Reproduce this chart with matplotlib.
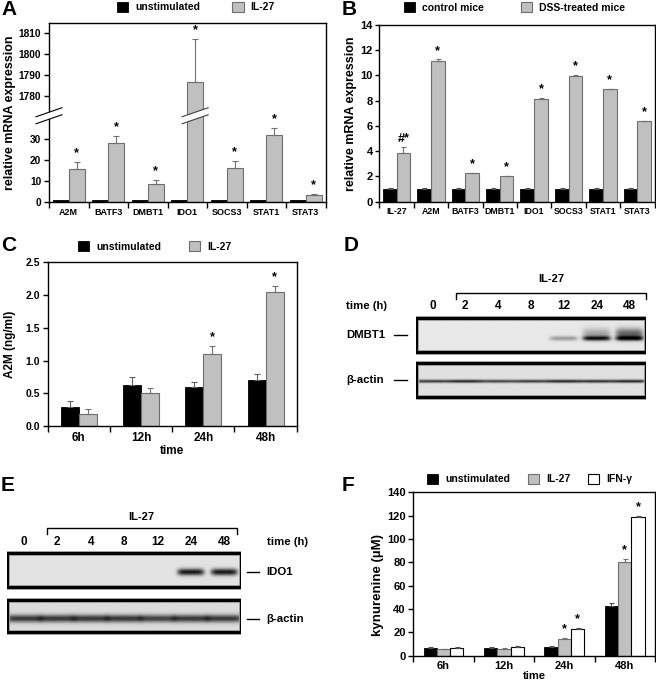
import numpy as np
import matplotlib
matplotlib.use('Agg')
import matplotlib.pyplot as plt
from matplotlib.patches import Rectangle, Polygon
from matplotlib.lines import Line2D

plt.rcParams['font.family'] = ['Liberation Sans', 'DejaVu Sans']
plt.rcParams['font.weight'] = 'bold'
plt.rcParams['axes.labelweight'] = 'bold'
plt.rcParams['axes.linewidth'] = 1.0

# ---------------- data ----------------
# A: relative mRNA expression, cell line
genes_a = ['A2M', 'BATF3', 'DMBT1', 'IDO1', 'SOCS3', 'STAT1', 'STAT3']
unstim_a = [1, 1, 1, 1, 1, 1, 1]
il27_a = [15.5, 27.7, 8.6, 1787, 16.0, 31.9, 3.3]
il27_a_err = [3.4, 3.7, 2.0, 20, 3.2, 3.3, 0.3]
stars_a = ['*', '*', '*', '*', '*', '*', '*']

# B: relative mRNA expression, mice
genes_b = ['IL-27', 'A2M', 'BATF3', 'DMBT1', 'IDO1', 'SOCS3', 'STAT1', 'STAT3']
control_b = [1, 1, 1, 1, 1, 1, 1, 1]
control_b_err = [0.08, 0.05, 0.05, 0.05, 0.05, 0.08, 0.05, 0.08]
dss_b = [3.88, 11.12, 2.25, 2.03, 8.11, 9.93, 8.9, 6.37]
dss_b_err = [0.43, 0.15, 0.0, 0.0, 0.08, 0.08, 0.0, 0.0]
stars_b = ['#*', '*', '*', '*', '*', '*', '*', '*']

# C: A2M protein (ng/ml)
times = ['6h', '12h', '24h', '48h']
unstim_c = [0.30, 0.625, 0.60, 0.70]
unstim_c_err = [0.09, 0.12, 0.07, 0.10]
il27_c = [0.19, 0.51, 1.10, 2.05]
il27_c_err = [0.08, 0.08, 0.13, 0.09]
stars_c = ['', '', '*', '*']

# F: kynurenine (uM)
unstim_f = [6.9, 6.9, 7.6, 43.0]
unstim_f_err = [0.8, 0.9, 0.8, 2.0]
il27_f = [5.7, 6.0, 14.3, 80.7]
il27_f_err = [0.4, 0.5, 1.2, 2.0]
ifng_f = [6.6, 7.5, 22.9, 118.8]
ifng_f_err = [0.6, 0.9, 0.5, 0.7]
stars_f_il27 = ['', '', '*', '*']
stars_f_ifng = ['', '', '*', '*']

# D / E: western blots, relative band darkness per lane
lanes = ['0', '2', '4', '8', '12', '24', '48']
dmbt1_level = [0, 0, 0, 0, 0.35, 0.9, 0.9]
dmbt1_smear = [0, 0, 0, 0, 0, 0.3, 0.6]
actin_d_level = [0.8, 0.9, 0.75, 0.8, 0.9, 0.85, 0.9]
ido1_level = [0, 0, 0, 0, 0, 0.95, 0.95]
actin_e_level = [0.8, 0.8, 0.8, 0.8, 0.75, 0.8, 0.8]

# ---------------- figure ----------------
W, H = 656, 685
fig = plt.figure(figsize=(W / 100, H / 100), dpi=100)

GREY = '#c0c0c0'
GREY_EDGE = '#6e6e6e'


def add_axes_px(x0, y0, x1, y1):
    return fig.add_axes([x0 / W, 1 - y1 / H, (x1 - x0) / W, (y1 - y0) / H])


def group_axis(ax, labels, size):
    n = len(labels)
    ax.set_xlim(-0.5, n - 0.5)
    ax.set_xticks(np.arange(n))
    ax.set_xticklabels(labels, fontsize=size, fontweight='bold')
    ax.set_xticks(np.arange(n + 1) - 0.5, minor=True)
    ax.tick_params(axis='x', which='major', length=0, pad=4)
    ax.tick_params(axis='x', which='minor', length=4, width=1, direction='out')
    ax.tick_params(axis='y', which='major', length=3.5, width=1, direction='out', pad=2)
    ax.tick_params(axis='y', which='minor', length=0)


def add_legend(ax, handles, labels, x, y, spacing):
    ax.legend(handles, labels, loc='center left', bbox_to_anchor=(x / W, 1 - y / H),
              bbox_transform=fig.transFigure, ncol=len(labels), frameon=False,
              prop={'size': 7.5, 'weight': 'bold'}, handlelength=1.1, handleheight=1.1,
              handletextpad=0.65, columnspacing=spacing, borderpad=0, borderaxespad=0)


def add_stars(ax, xs, tops, marks, size=9, dy=2):
    for x, t, m in zip(xs, tops, marks):
        if m:
            ax.annotate(m, (x, t), xytext=(0, dy), textcoords='offset points',
                        ha='center', va='bottom', fontsize=size, fontweight='bold')


def up_err(ax, x, y, err, color, cap=2.0):
    ax.errorbar(x, y, yerr=[np.zeros(len(err)), err], fmt='none', ecolor=color,
                elinewidth=0.8, capsize=cap, capthick=0.8, zorder=1)


def panel_letter(x, y, s):
    fig.text(x / W, 1 - y / H, s, fontsize=15, fontweight='bold', va='top', ha='left')


# ---------------- A (broken axis) ----------------
LOW_TOP = 40.8
HIGH_BOTTOM = 1771.0
SQ = 1e-4
MID_TOP = LOW_TOP + (HIGH_BOTTOM - LOW_TOP) * SQ


def fwd(v):
    v = np.asarray(v, float)
    return np.where(v <= LOW_TOP, v,
                    np.where(v < HIGH_BOTTOM, LOW_TOP + (v - LOW_TOP) * SQ,
                             MID_TOP + (v - HIGH_BOTTOM)))


def inv(u):
    u = np.asarray(u, float)
    return np.where(u <= LOW_TOP, u,
                    np.where(u < MID_TOP, LOW_TOP + (u - LOW_TOP) / SQ,
                             u - MID_TOP + HIGH_BOTTOM))


axA = add_axes_px(49, 23, 325.5, 202)
xa = np.arange(len(genes_a))
bA1 = axA.bar(xa - 0.2, unstim_a, 0.4, color='black', edgecolor='black', lw=0.6)
bA2 = axA.bar(xa + 0.2, il27_a, 0.4, color=GREY, edgecolor=GREY_EDGE, lw=0.8)
up_err(axA, xa + 0.2, il27_a, il27_a_err, '#707070')
axA.set_yscale('function', functions=(fwd, inv))
axA.set_ylim(0, 1814.7)
axA.set_yticks([0, 10, 20, 30, 1780, 1790, 1800, 1810])
axA.set_yticklabels(['0', '10', '20', '30', '1780', '1790', '1800', '1810'], fontsize=7.3)
axA.yaxis.set_minor_locator(matplotlib.ticker.NullLocator())
group_axis(axA, genes_a, 6.5)
axA.set_ylabel('relative mRNA expression', fontsize=9)
axA.yaxis.set_label_coords(-0.12, 0.5)
add_stars(axA, xa + 0.2, np.array(il27_a) + np.array(il27_a_err), stars_a)
add_legend(axA, [bA1, bA2], ['unstimulated', 'IL-27'], 116.7, 7.2, 3.1)


def draw_break(ax, cx, cy, color):
    half, rise, gap = 13, 4.5, 3.5
    up = [(cx - half, cy + gap - rise), (cx + half, cy + gap + rise)]
    lo = [(cx - half, cy - gap - rise), (cx + half, cy - gap + rise)]
    to_ax = ax.transAxes.inverted()
    up_a = to_ax.transform(up)
    lo_a = to_ax.transform(lo)
    poly = Polygon([lo_a[0], lo_a[1], up_a[1], up_a[0]], closed=True, fc='white', ec='none',
                   transform=ax.transAxes, clip_on=False, zorder=5)
    ax.add_patch(poly)
    for seg in (up_a, lo_a):
        ax.add_line(Line2D(seg[:, 0], seg[:, 1], color=color, lw=0.8,
                           transform=ax.transAxes, clip_on=False, zorder=6))


brk_y = axA.transData.transform((0, LOW_TOP + 0.1))[1]
draw_break(axA, axA.transAxes.transform((0, 0))[0], brk_y, 'black')
draw_break(axA, axA.transData.transform((xa[3] + 0.2, 0))[0], brk_y, '#404040')

# ---------------- B ----------------
axB = add_axes_px(379.3, 25, 654.5, 201.7)
xb = np.arange(len(genes_b))
bB1 = axB.bar(xb - 0.2, control_b, 0.4, color='black', edgecolor='black', lw=0.6)
bB2 = axB.bar(xb + 0.2, dss_b, 0.4, color=GREY, edgecolor=GREY_EDGE, lw=0.8)
up_err(axB, xb - 0.2, control_b, control_b_err, '#505050', cap=1.8)
up_err(axB, xb + 0.2, dss_b, dss_b_err, '#707070', cap=1.8)
axB.set_ylim(0, 14)
axB.set_yticks(np.arange(0, 15, 2))
axB.tick_params(axis='y', labelsize=8, pad=1.5)
group_axis(axB, genes_b, 6.3)
axB.tick_params(axis='y', pad=1.5, length=3)
axB.set_ylabel('relative mRNA expression', fontsize=9)
axB.yaxis.set_label_coords(-0.08, 0.5)
add_stars(axB, xb + 0.2, np.array(dss_b) + np.array(dss_b_err), stars_b)
add_legend(axB, [bB1, bB2], ['control mice', 'DSS-treated mice'], 404, 7.5, 3.5)

# ---------------- C ----------------
axC = add_axes_px(47.7, 262.3, 296.7, 426.3)
xc = np.arange(len(times))
bC1 = axC.bar(xc - 0.145, unstim_c, 0.29, color='black', edgecolor='black', lw=0.6)
bC2 = axC.bar(xc + 0.145, il27_c, 0.29, color=GREY, edgecolor=GREY_EDGE, lw=0.8)
up_err(axC, xc - 0.145, unstim_c, unstim_c_err, '#606060', cap=2.5)
up_err(axC, xc + 0.145, il27_c, il27_c_err, '#707070', cap=2.5)
axC.set_ylim(0, 2.5)
axC.set_yticks(np.arange(0, 2.51, 0.5))
axC.set_yticklabels(['%.1f' % v for v in np.arange(0, 2.51, 0.5)], fontsize=7.5)
group_axis(axC, times, 8.5)
axC.set_ylabel('A2M (ng/ml)', fontsize=8.5)
axC.yaxis.set_label_coords(-0.127, 0.5)
axC.set_xlabel('time', fontsize=8.5, labelpad=1)
add_stars(axC, xc + 0.145, np.array(il27_c) + np.array(il27_c_err), stars_c)
add_legend(axC, [bC1, bC2], ['unstimulated', 'IL-27'], 77.7, 246.3, 2.65)

# ---------------- F ----------------
axF = add_axes_px(413.3, 492.3, 655, 655.7)
xf = np.arange(len(times))
bF1 = axF.bar(xf - 0.22, unstim_f, 0.22, color='black', edgecolor='black', lw=0.6)
bF2 = axF.bar(xf, il27_f, 0.22, color=GREY, edgecolor=GREY_EDGE, lw=0.8)
bF3 = axF.bar(xf + 0.22, ifng_f, 0.22, color='white', edgecolor='black', lw=0.8)
up_err(axF, xf - 0.22, unstim_f, unstim_f_err, '#505050', cap=1.8)
up_err(axF, xf, il27_f, il27_f_err, '#707070', cap=1.8)
up_err(axF, xf + 0.22, ifng_f, ifng_f_err, '#505050', cap=1.8)
axF.set_ylim(0, 140)
axF.set_yticks(np.arange(0, 141, 20))
axF.tick_params(axis='y', labelsize=8)
group_axis(axF, times, 8)
axF.set_ylabel('kynurenine (\u00b5M)', fontsize=9.5)
axF.yaxis.set_label_coords(-0.121, 0.43)
axF.set_xlabel('time', fontsize=8, labelpad=0)
add_stars(axF, xf, np.array(il27_f) + np.array(il27_f_err), stars_f_il27)
add_stars(axF, xf + 0.22, np.array(ifng_f) + np.array(ifng_f_err), stars_f_ifng)
add_legend(axF, [bF1, bF2, bF3], ['unstimulated', 'IL-27', 'IFN-\u03b3'], 426.7, 479.2, 1.7)


# ---------------- blots ----------------
def blot_image(levels, center, thick, lane_w, smear=None, bg=0.9, rows=90, cpl=40):
    n = len(levels)
    xs = (np.arange(n * cpl) + 0.5) / cpl - 0.5
    ys = np.linspace(0, 1, rows)
    img = np.full((rows, xs.size), bg)
    for i, lv in enumerate(levels):
        px = np.exp(-np.abs((xs - i) / (lane_w / 2)) ** 6)
        py = np.exp(-((ys - center) / thick) ** 2)
        img -= lv * np.outer(py, px) * (bg - 0.05)
        if smear is not None and smear[i] > 0:
            ps = np.exp(-((ys - (center - 0.14)) / 0.16) ** 2)
            img -= smear[i] * np.outer(ps, px) * (bg - 0.05)
    return np.clip(img, 0, 1)


def draw_blot(ax, img, y_top, y_bot, n):
    ax.imshow(img, cmap='gray', vmin=0, vmax=1, aspect='auto', interpolation='bilinear',
              extent=(-0.5, n - 0.5, y_bot, y_top))
    ax.add_patch(Rectangle((-0.5, y_top), n, y_bot - y_top, fill=False, ec='#999999', lw=3.4))
    ax.add_patch(Rectangle((-0.5, y_top), n, y_bot - y_top, fill=False, ec='black', lw=2.2))


def bracket(ax, x0, x1, y, ytick, label, ylab):
    ax.plot([x0, x0, x1, x1], [ytick, y, y, ytick], color='black', lw=1.0, clip_on=False)
    ax.text((x0 + x1) / 2, ylab, label, ha='center', va='center', fontsize=8)


n = len(lanes)
# D
axD = add_axes_px(416, 270, 646, 400)
axD.set_xlim(-0.5, n - 0.5)
axD.set_ylim(400, 270)
axD.axis('off')
draw_blot(axD, blot_image(dmbt1_level, 0.6, 0.07, 0.85, smear=dmbt1_smear, bg=0.91), 317.7, 351.7, n)
draw_blot(axD, blot_image(actin_d_level, 0.55, 0.045, 1.05, bg=0.88), 362.7, 397.3, n)
for i, lab in enumerate(lanes):
    axD.text(i, 305.7, lab, ha='center', va='center', fontsize=8.5)
axD.text(-2.63, 305.7, 'time (h)', ha='left', va='center', fontsize=8.2, clip_on=False)
bracket(axD, 0.72, 6.5, 293.3, 299, 'IL-27', 279.3)
axD.text(-2.63, 335, 'DMBT1', ha='left', va='center', fontsize=8.2, clip_on=False)
axD.plot([-1.17, -0.78], [335, 335], color='black', lw=1.0, clip_on=False)
axD.text(-2.63, 380, '\u03b2-actin', ha='left', va='center', fontsize=8.2, clip_on=False)
axD.plot([-1.17, -0.78], [380, 380], color='black', lw=1.0, clip_on=False)

# E
axE = add_axes_px(7.3, 505, 240.7, 640)
axE.set_xlim(-0.5, n - 0.5)
axE.set_ylim(640, 505)
axE.axis('off')
draw_blot(axE, blot_image(ido1_level, 0.56, 0.1, 0.8, bg=0.89), 553.3, 587.3, n)
draw_blot(axE, blot_image(actin_e_level, 0.58, 0.12, 1.1, bg=0.86), 600, 631.7, n)
for i, lab in enumerate(lanes):
    axE.text(i, 542.3, lab, ha='center', va='center', fontsize=8.5)
axE.text(7.28, 542.3, 'time (h)', ha='left', va='center', fontsize=8.2, clip_on=False)
bracket(axE, 0.68, 6.38, 527.7, 534.3, 'IL-27', 516.7)
axE.plot([6.69, 7.06], [572.3, 572.3], color='black', lw=1.0, clip_on=False)
axE.text(7.28, 572.3, 'IDO1', ha='left', va='center', fontsize=8.2, clip_on=False)
axE.plot([6.69, 7.06], [619, 619], color='black', lw=1.0, clip_on=False)
axE.text(7.28, 619, '\u03b2-actin', ha='left', va='center', fontsize=8.2, clip_on=False)

# panel letters
panel_letter(1, 0, 'A')
panel_letter(342, 0, 'B')
panel_letter(1, 236, 'C')
panel_letter(344, 236, 'D')
panel_letter(1, 476, 'E')
panel_letter(342, 476, 'F')

fig.savefig('out.png', dpi=100)
